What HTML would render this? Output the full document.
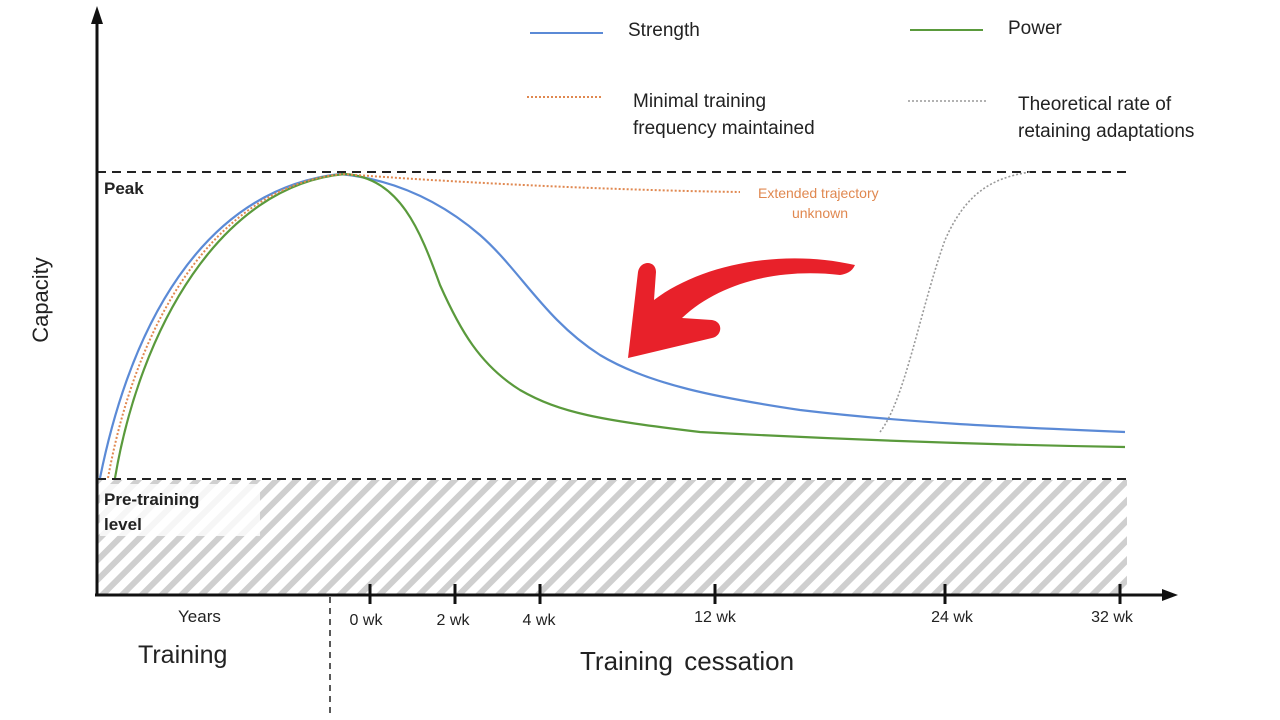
<!DOCTYPE html>
<html><head><meta charset="utf-8"><style>
body{margin:0;background:#fff;width:1280px;height:720px;overflow:hidden}
svg{display:block}
text{font-family:"Liberation Sans",sans-serif}
</style></head><body>
<svg width="1280" height="720" viewBox="0 0 1280 720">
<defs>
<pattern id="h" width="14" height="14" patternUnits="userSpaceOnUse" patternTransform="rotate(45)">
<rect width="14" height="14" fill="#fff"/><rect width="6" height="14" fill="#cfcfcf"/>
</pattern>
</defs>
<rect x="98" y="480" width="1029" height="115" fill="url(#h)"/>
<rect x="100" y="484" width="160" height="52" fill="#fff" opacity="0.8"/>
<line x1="97" y1="172" x2="1130" y2="172" stroke="#222" stroke-width="2" stroke-dasharray="9,6"/>
<line x1="97" y1="479" x2="1130" y2="479" stroke="#222" stroke-width="2" stroke-dasharray="9,6"/>
<line x1="97" y1="595" x2="97" y2="18" stroke="#111" stroke-width="3"/>
<polygon points="97,6 91,24 103,24" fill="#111"/>
<line x1="95" y1="595" x2="1165" y2="595" stroke="#111" stroke-width="3"/>
<polygon points="1178,595 1162,589 1162,601" fill="#111"/>
<g stroke="#111" stroke-width="3">
<line x1="370" y1="584" x2="370" y2="604"/><line x1="455" y1="584" x2="455" y2="604"/>
<line x1="540" y1="584" x2="540" y2="604"/><line x1="715" y1="584" x2="715" y2="604"/>
<line x1="945" y1="584" x2="945" y2="604"/><line x1="1120" y1="584" x2="1120" y2="604"/>
</g>
<line x1="330" y1="597" x2="330" y2="718" stroke="#222" stroke-width="1.5" stroke-dasharray="6,5"/>
<path d="M100,478 C130,330 200,190 340,174 C400,180 445,205 480,235 C520,270 545,320 600,355 C650,385 720,398 800,410 C900,422 1000,427 1125,432" fill="none" stroke="#5b8ad6" stroke-width="2.2"/>
<path d="M115,478 C140,330 220,185 345,174 C400,178 420,230 440,285 C460,330 480,365 520,390 C560,413 600,420 700,432 C850,440 1000,445 1125,447" fill="none" stroke="#5a9a3c" stroke-width="2.2"/>
<path d="M108,478 C135,330 210,188 342,174 C450,182 600,190 740,192" fill="none" stroke="#e08850" stroke-width="2" stroke-dasharray="2,2"/>
<path d="M880,432 C905,400 920,310 945,240 C965,195 990,178 1030,172" fill="none" stroke="#999" stroke-width="1.6" stroke-dasharray="2,2"/>
<path d="M628,358 L638,272 C640,260 656,260 656,272 L654,300 C700,265 780,248 855,265 C852,272 846,274 840,275 C780,268 720,282 682,318 L712,320 C724,322 722,336 712,338 Z" fill="#e8212a"/>
<text x="104" y="194" font-size="17" font-weight="bold" fill="#222">Peak</text>
<text x="104" y="505" font-size="17" font-weight="bold" fill="#222">Pre-training</text>
<text x="104" y="530" font-size="17" font-weight="bold" fill="#222">level</text>
<text x="48" y="300" font-size="22" fill="#222" transform="rotate(-90 48 300)" text-anchor="middle">Capacity</text>
<text x="178" y="622" font-size="17" fill="#222">Years</text>
<text x="138" y="663" font-size="25" fill="#222">Training</text>
<text x="580" y="670" font-size="26" fill="#222" word-spacing="4">Training cessation</text>
<g font-size="16" fill="#222" text-anchor="middle">
<text x="366" y="625">0 wk</text><text x="453" y="625">2 wk</text><text x="539" y="625">4 wk</text>
<text x="715" y="622">12 wk</text><text x="952" y="622">24 wk</text><text x="1112" y="622">32 wk</text>
</g>
<text x="758" y="198" font-size="14" fill="#e08850">Extended  trajectory</text>
<text x="820" y="218" font-size="14" fill="#e08850" text-anchor="middle">unknown</text>
<line x1="530" y1="33" x2="603" y2="33" stroke="#5b8ad6" stroke-width="2"/>
<text x="628" y="36" font-size="19" fill="#222">Strength</text>
<line x1="910" y1="30" x2="983" y2="30" stroke="#5a9a3c" stroke-width="2"/>
<text x="1008" y="34" font-size="19" fill="#222">Power</text>
<line x1="527" y1="97" x2="603" y2="97" stroke="#e08850" stroke-width="2" stroke-dasharray="2,2"/>
<text x="633" y="107" font-size="19" fill="#222">Minimal training</text>
<text x="633" y="134" font-size="19" fill="#222">frequency maintained</text>
<line x1="908" y1="101" x2="986" y2="101" stroke="#999" stroke-width="1.6" stroke-dasharray="2,2"/>
<text x="1018" y="110" font-size="19" fill="#222">Theoretical rate of</text>
<text x="1018" y="137" font-size="19" fill="#222">retaining adaptations</text>
</svg>
</body></html>
